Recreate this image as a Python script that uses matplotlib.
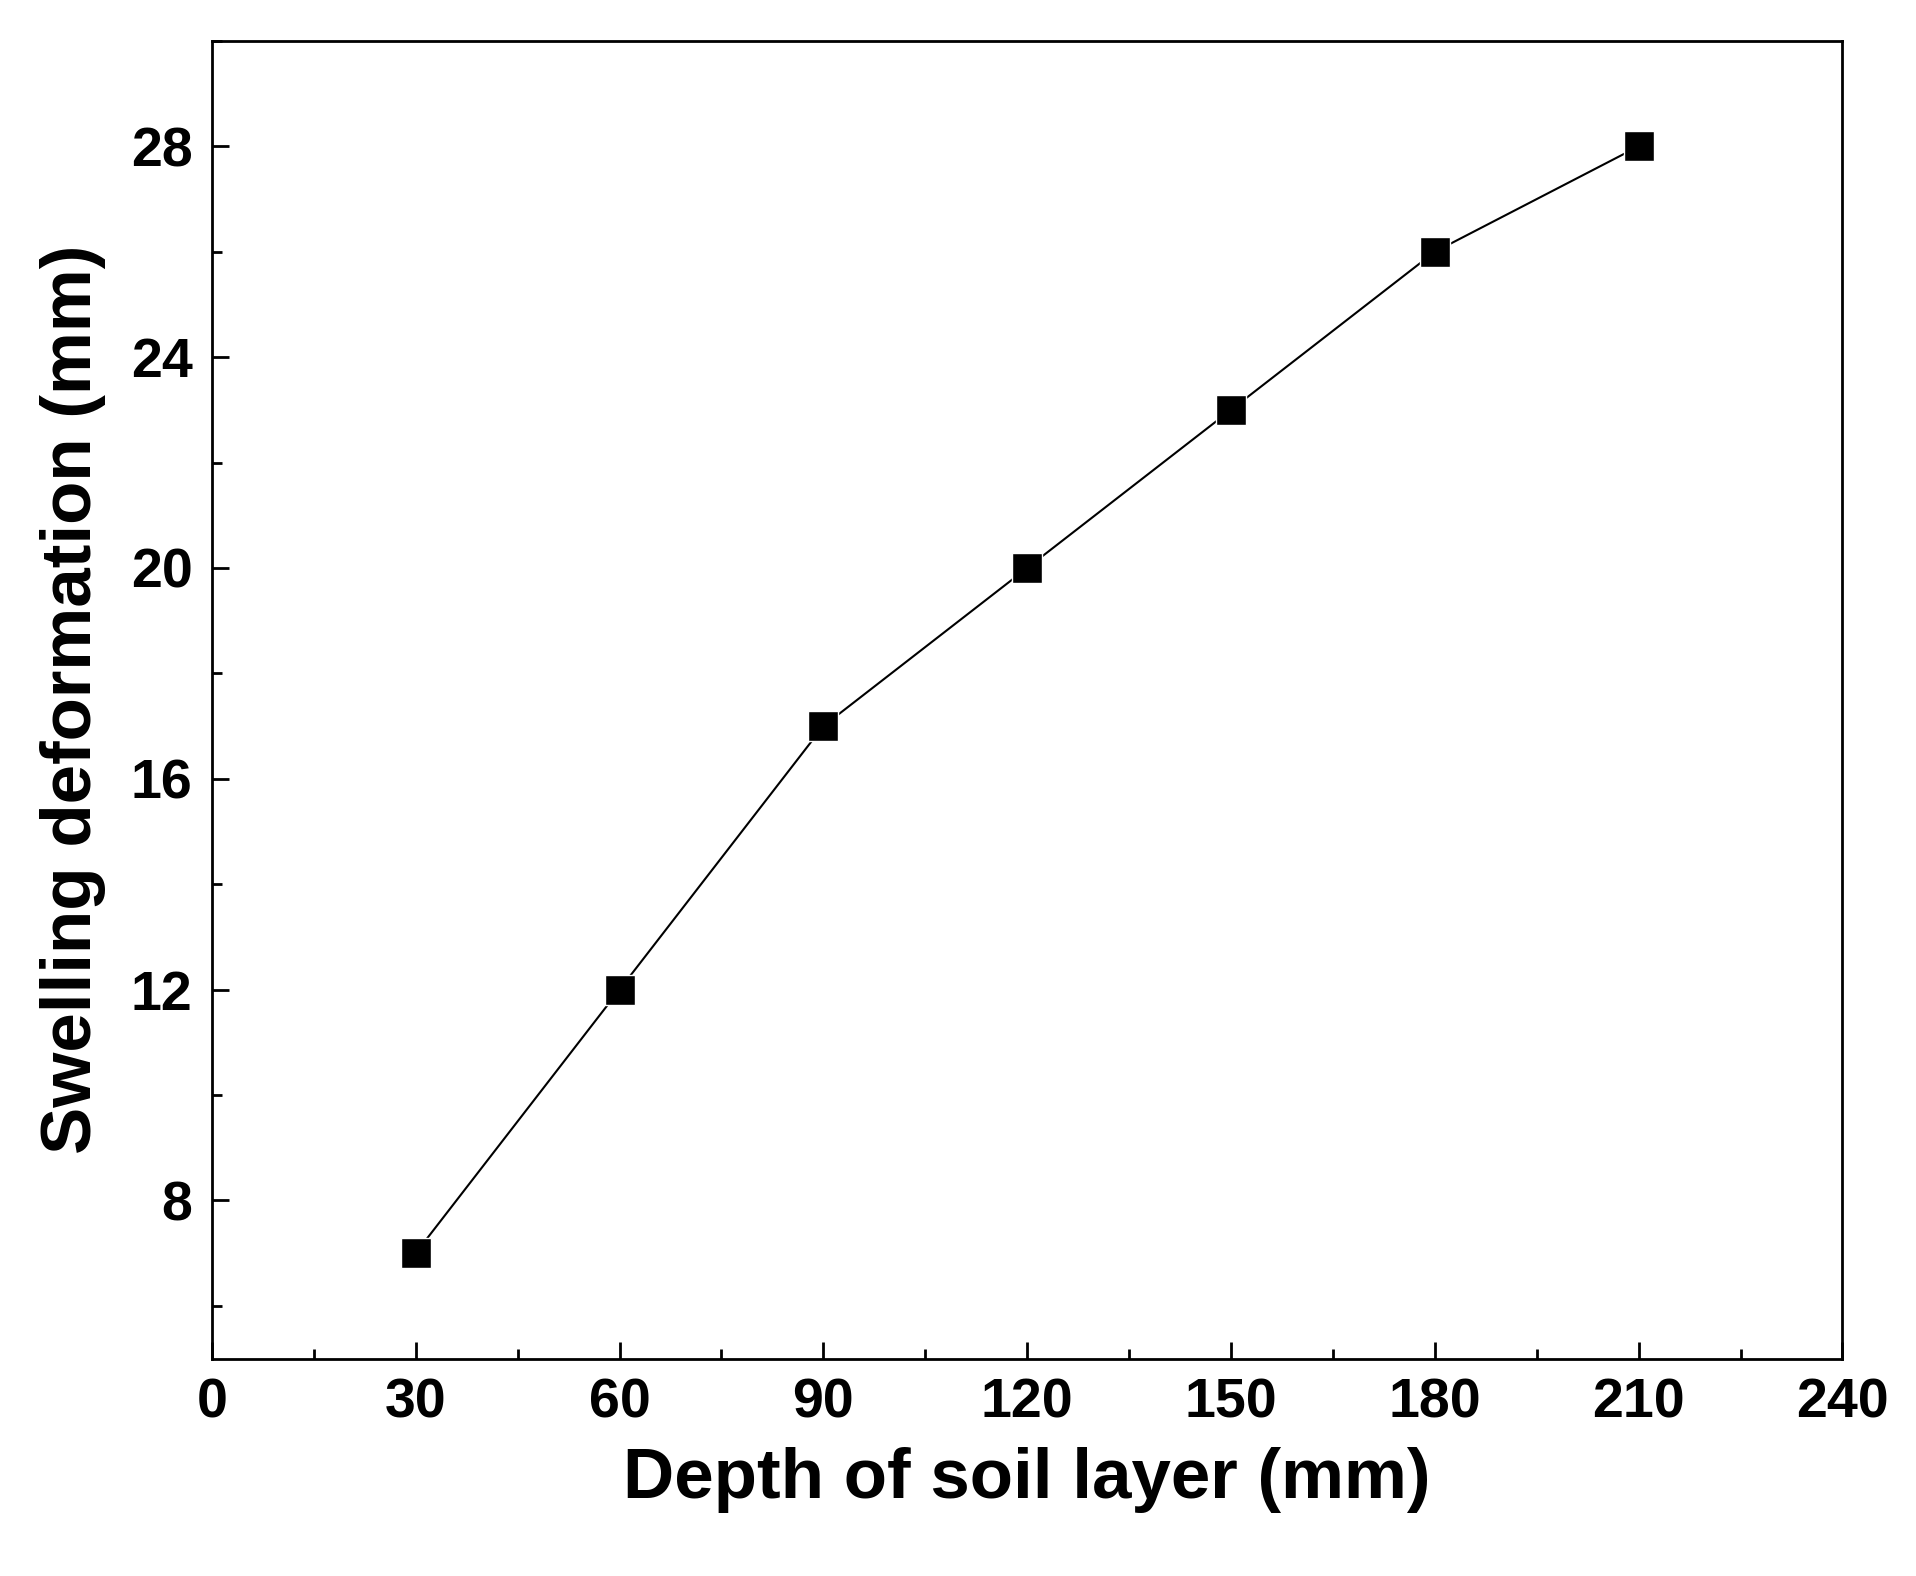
import matplotlib
matplotlib.use("Agg")
import matplotlib.pyplot as plt
from matplotlib.ticker import MultipleLocator

depth = [30, 60, 90, 120, 150, 180, 210]
swelling = [7, 12, 17, 20, 23, 26, 28]
xticks = [0, 30, 60, 90, 120, 150, 180, 210, 240]
yticks = [8, 12, 16, 20, 24, 28]

plt.rcParams['font.family'] = ['Liberation Sans', 'DejaVu Sans']
fig = plt.figure(figsize=(19.16, 15.76), dpi=100)
ax = fig.add_axes([0.1106, 0.138, 0.851, 0.836])
ax.plot(depth, swelling, color='black', lw=1.5, marker='s', ms=21,
        markerfacecolor='black', markeredgecolor='white', markeredgewidth=1)
ax.set_xlim(0, 240)
ax.set_ylim(5, 30)
ax.set_xticks(xticks)
ax.set_yticks(yticks)
ax.xaxis.set_minor_locator(MultipleLocator(15))
ax.yaxis.set_minor_locator(MultipleLocator(2))
ax.tick_params(which='both', direction='in', top=False, right=False, width=2)
ax.tick_params(which='major', length=12, labelsize=40, pad=14)
ax.tick_params(which='minor', length=7)
for l in ax.get_xticklabels() + ax.get_yticklabels():
    l.set_fontweight('bold')
for s in ax.spines.values():
    s.set_linewidth(2)
ax.set_xlabel('Depth of soil layer (mm)', fontsize=51, fontweight='bold', labelpad=12)
ax.set_ylabel('Swelling deformation (mm)', fontsize=51, fontweight='bold', labelpad=18)
fig.savefig('out.png', dpi=100)
